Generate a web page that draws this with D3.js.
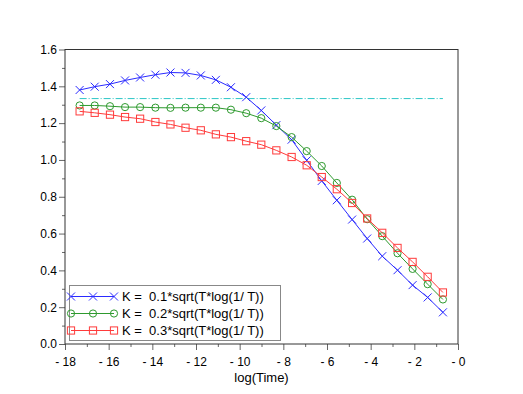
<!DOCTYPE html>
<html>
<head>
<meta charset="utf-8">
<script src="https://cdn.jsdelivr.net/npm/d3@7"></script>
<style>
  body { margin: 0; background: #fff; }
  text { font-family: "Liberation Sans", Arial, sans-serif; }
</style>
</head>
<body>
<div id="chart"></div>
<script>
// data
var logTime = [-17.33, -16.64, -15.94, -15.25, -14.56, -13.86, -13.17, -12.48, -11.78, -11.09,
               -10.40, -9.70, -9.01, -8.32, -7.62, -6.93, -6.24, -5.55, -4.85, -4.16,
               -3.47, -2.77, -2.08, -1.39, -0.69];
var k01 = [1.380, 1.398, 1.412, 1.432, 1.448, 1.463, 1.475, 1.473, 1.459, 1.435,
           1.395, 1.341, 1.269, 1.189, 1.110, 0.998, 0.886, 0.781, 0.676, 0.573,
           0.477, 0.401, 0.320, 0.253, 0.172];
var k02 = [1.296, 1.296, 1.292, 1.287, 1.287, 1.284, 1.283, 1.284, 1.284, 1.284,
           1.273, 1.254, 1.227, 1.184, 1.124, 1.048, 0.967, 0.875, 0.784, 0.678,
           0.586, 0.493, 0.408, 0.325, 0.242];
var k03 = [1.264, 1.256, 1.246, 1.233, 1.224, 1.206, 1.193, 1.175, 1.161, 1.139,
           1.124, 1.102, 1.083, 1.052, 1.016, 0.971, 0.907, 0.841, 0.766, 0.682,
           0.604, 0.522, 0.446, 0.365, 0.280];
var refLevel = 1.3333;
var seriesNames = ["K =  0.1*sqrt(T*log(1/ T))", "K =  0.2*sqrt(T*log(1/ T))", "K =  0.3*sqrt(T*log(1/ T))"];
var xTicks = [-18, -16, -14, -12, -10, -8, -6, -4, -2, 0];
var xTickLabels = ["- 18", "- 16", "- 14", "- 12", "- 10", "- 8", "- 6", "- 4", "- 2", "- 0"];
var yTicks = [0, 0.2, 0.4, 0.6, 0.8, 1.0, 1.2, 1.4, 1.6];
var yTickLabels = ["0.0", "0.2", "0.4", "0.6", "0.8", "1.0", "1.2", "1.4", "1.6"];
var xLabel = "log(Time)";

var svgWidth = 523;
var svgHeight = 394;

var svg = d3.select("#chart")
            .append("svg")
            .attr("width", svgWidth)
            .attr("height", svgHeight);

var xScale = d3.scaleLinear().domain([-18, 0]).range([65, 458]);
var yScale = d3.scaleLinear().domain([0, 1.6]).range([344, 49.5]);

var colors = ["#2b2bff", "#2e9a2e", "#ff3b3b"];
var markers = ["cross", "circle", "square"];
var seriesData = [k01, k02, k03];

// minor ticks
var xMinor = d3.range(-17, 0, 2);
var yMinor = d3.range(0.1, 1.6, 0.2);

// axes
var xAxis = d3.axisBottom(xScale).tickValues(xTicks).tickSize(6)
              .tickFormat(function(d, i) { return xTickLabels[i]; });
var yAxis = d3.axisLeft(yScale).tickValues(yTicks).tickSize(6)
              .tickFormat(function(d, i) { return yTickLabels[i]; });

var gx = svg.append("g").attr("transform", "translate(0,344)").call(xAxis);
var gy = svg.append("g").attr("transform", "translate(65,0)").call(yAxis);

svg.append("g").attr("transform", "translate(0,344)")
   .call(d3.axisBottom(xScale).tickValues(xMinor).tickSize(3).tickFormat(""))
   .select(".domain").remove();
svg.append("g").attr("transform", "translate(65,0)")
   .call(d3.axisLeft(yScale).tickValues(yMinor).tickSize(3).tickFormat(""))
   .select(".domain").remove();

svg.selectAll(".tick line").attr("stroke", "#666");
svg.selectAll(".domain").remove();
gx.selectAll("text").attr("font-size", 12).attr("fill", "#000").attr("dy", "1.05em").style("white-space", "pre");
gy.selectAll("text").attr("font-size", 12).attr("fill", "#000").attr("x", -8);

// frame
svg.append("rect")
   .attr("x", xScale(-18)).attr("y", yScale(1.6))
   .attr("width", xScale(0) - xScale(-18))
   .attr("height", yScale(0) - yScale(1.6))
   .attr("fill", "none").attr("stroke", "#333").attr("stroke-width", 1);

// reference line
svg.append("line")
   .attr("x1", xScale(logTime[0])).attr("x2", xScale(logTime[logTime.length - 1]))
   .attr("y1", yScale(refLevel)).attr("y2", yScale(refLevel))
   .attr("stroke", "#2cc6c6").attr("stroke-width", 1)
   .attr("stroke-dasharray", "7,2,1,2");

function drawMarker(g, type, x, y, color) {
    if (type == "cross") {
        g.append("path")
         .attr("d", "M" + (x - 4) + "," + (y - 4) + "L" + (x + 4) + "," + (y + 4) +
                    "M" + (x - 4) + "," + (y + 4) + "L" + (x + 4) + "," + (y - 4))
         .attr("stroke", color).attr("fill", "none");
    } else if (type == "circle") {
        g.append("circle").attr("cx", x).attr("cy", y).attr("r", 3.6)
         .attr("stroke", color).attr("fill", "none");
    } else {
        g.append("rect").attr("x", x - 3.6).attr("y", y - 3.6).attr("width", 7.2).attr("height", 7.2)
         .attr("stroke", color).attr("fill", "none");
    }
}

var line = d3.line()
             .x(function(d, i) { return xScale(logTime[i]); })
             .y(function(d) { return yScale(d); });

seriesData.forEach(function(vals, s) {
    var g = svg.append("g");
    g.append("path").datum(vals).attr("d", line)
     .attr("fill", "none").attr("stroke", colors[s]).attr("stroke-width", 1);
    vals.forEach(function(v, i) {
        drawMarker(g, markers[s], xScale(logTime[i]), yScale(v), colors[s]);
    });
});

// x label
svg.append("text")
   .attr("x", (xScale(-18) + xScale(0)) / 2).attr("y", 382)
   .attr("text-anchor", "middle").attr("font-size", 13)
   .text(xLabel);

// legend
var legend = svg.append("g");
legend.append("rect")
      .attr("x", 69.5).attr("y", 285.5).attr("width", 211).attr("height", 55)
      .attr("fill", "#fff").attr("stroke", "#888");
seriesNames.forEach(function(name, s) {
    var ly = 296.5 + s * 17;
    legend.append("line").attr("x1", 71).attr("x2", 114).attr("y1", ly).attr("y2", ly)
          .attr("stroke", colors[s]);
    [71, 93, 114].forEach(function(mx) { drawMarker(legend, markers[s], mx, ly, colors[s]); });
    legend.append("text").attr("x", 122).attr("y", ly + 4.5)
          .attr("font-size", 13).style("white-space", "pre")
          .text(name);
});
</script>
</body>
</html>
